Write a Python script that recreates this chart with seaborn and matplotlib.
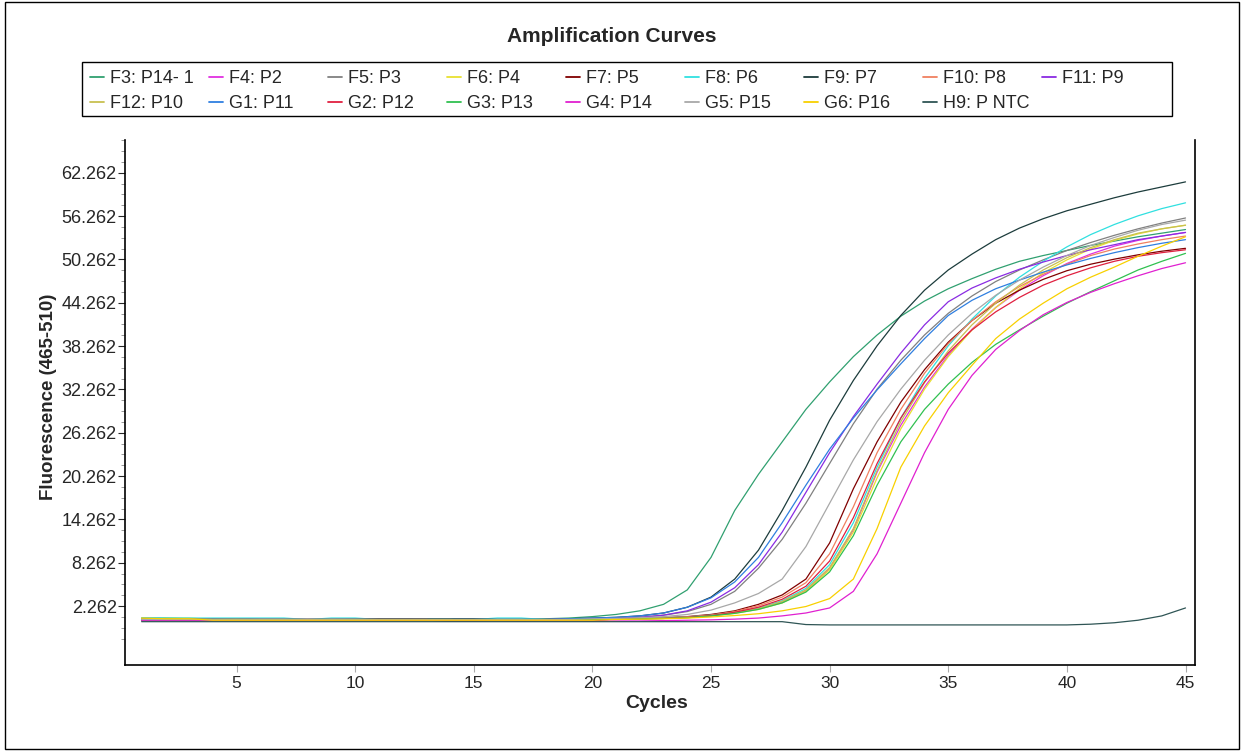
import matplotlib
matplotlib.use("Agg")
import matplotlib.pyplot as plt
import seaborn as sns
import pandas as pd
from matplotlib.lines import Line2D
from matplotlib.patches import Rectangle
from matplotlib.ticker import FixedLocator

# cycle numbers and the fluorescence read-outs of every well
cycles = list(range(1, 46))

f3_p14_1 = [0.6, 0.6, 0.5, 0.5, 0.5, 0.4, 0.4, 0.4, 0.4, 0.4,
            0.4, 0.4, 0.4, 0.3, 0.3, 0.4, 0.4, 0.5, 0.6, 0.8,
            1.1, 1.6, 2.5, 4.5, 9.0, 15.5, 20.5, 25.0, 29.5, 33.3,
            36.8, 39.8, 42.4, 44.5, 46.2, 47.6, 48.9, 50.0, 50.8, 51.5,
            52.2, 52.8, 53.4, 53.9, 54.4]
f4_p2 = [0.5, 0.5, 0.5, 0.4, 0.4, 0.4, 0.4, 0.4, 0.4, 0.4,
         0.4, 0.4, 0.4, 0.2, 0.2, 0.3, 0.2, 0.3, 0.3, 0.4,
         0.45, 0.5, 0.55, 0.7, 0.9, 1.3, 1.9, 2.8, 4.4, 7.5,
         12.8, 20.8, 27.3, 32.6, 37.0, 40.6, 43.6, 46.0, 48.0, 49.7,
         51.0, 52.1, 52.9, 53.5, 54.0]
f5_p3 = [0.4, 0.5, 0.5, 0.5, 0.5, 0.4, 0.4, 0.4, 0.4, 0.5,
         0.5, 0.5, 0.4, 0.4, 0.4, 0.4, 0.4, 0.4, 0.5, 0.5,
         0.6, 0.7, 1.0, 1.5, 2.5, 4.3, 7.5, 11.5, 16.5, 22.0,
         27.5, 32.3, 36.3, 39.8, 42.8, 45.2, 47.2, 48.8, 50.2, 51.5,
         52.6, 53.6, 54.5, 55.3, 56.0]
f6_p4 = [0.3, 0.6, 0.6, 0.4, 0.5, 0.3, 0.3, 0.3, 0.3, 0.3,
         0.3, 0.3, 0.3, 0.3, 0.3, 0.3, 0.3, 0.3, 0.3, 0.3,
         0.45, 0.5, 0.55, 0.65, 0.9, 1.25, 1.8, 2.7, 4.3, 7.3,
         12.5, 20.0, 26.8, 32.3, 36.8, 40.5, 43.6, 46.2, 48.4, 50.2,
         51.7, 52.9, 53.8, 54.5, 55.0]
f7_p5 = [0.3, 0.3, 0.3, 0.3, 0.3, 0.3, 0.3, 0.3, 0.3, 0.3,
         0.3, 0.3, 0.3, 0.2, 0.2, 0.3, 0.3, 0.3, 0.3, 0.2,
         0.5, 0.55, 0.65, 0.8, 1.1, 1.6, 2.5, 3.8, 6.0, 11.0,
         18.5, 25.0, 30.5, 35.0, 38.8, 41.8, 44.2, 46.0, 47.5, 48.7,
         49.6, 50.3, 50.9, 51.4, 51.8]
f8_p6 = [0.6, 0.6, 0.6, 0.6, 0.6, 0.6, 0.6, 0.4, 0.6, 0.6,
         0.4, 0.4, 0.4, 0.4, 0.4, 0.6, 0.6, 0.4, 0.4, 0.5,
         0.5, 0.55, 0.6, 0.75, 1.0, 1.4, 2.0, 3.0, 4.7, 8.0,
         13.8, 21.5, 28.3, 33.8, 38.3, 42.0, 45.2, 47.8, 50.0, 52.0,
         53.7, 55.1, 56.3, 57.3, 58.1]
f9_p7 = [0.4, 0.4, 0.4, 0.4, 0.4, 0.4, 0.4, 0.4, 0.4, 0.4,
         0.5, 0.5, 0.5, 0.5, 0.5, 0.4, 0.4, 0.4, 0.5, 0.6,
         0.7, 0.9, 1.3, 2.1, 3.5, 6.0, 10.0, 15.5, 21.5, 28.0,
         33.5, 38.3, 42.5, 46.0, 48.8, 51.0, 53.0, 54.6, 55.9, 57.0,
         57.9, 58.8, 59.6, 60.3, 61.0]
f10_p8 = [0.4, 0.4, 0.4, 0.4, 0.4, 0.4, 0.4, 0.4, 0.4, 0.4,
          0.4, 0.4, 0.4, 0.3, 0.3, 0.3, 0.3, 0.3, 0.4, 0.4,
          0.5, 0.55, 0.6, 0.75, 1.0, 1.5, 2.3, 3.5, 5.5, 9.5,
          16.0, 23.5, 29.5, 34.5, 38.6, 41.8, 44.4, 46.5, 48.2, 49.6,
          50.8, 51.7, 52.4, 53.0, 53.5]
f11_p9 = [0.4, 0.4, 0.4, 0.4, 0.4, 0.4, 0.4, 0.4, 0.4, 0.4,
          0.4, 0.4, 0.4, 0.4, 0.4, 0.4, 0.4, 0.4, 0.5, 0.5,
          0.6, 0.7, 1.0, 1.6, 2.8, 4.8, 8.0, 12.5, 18.0, 23.5,
          28.5, 33.0, 37.3, 41.2, 44.4, 46.3, 47.7, 48.9, 49.9, 50.8,
          51.6, 52.3, 53.0, 53.5, 54.0]
f12_p10 = [0.5, 0.5, 0.5, 0.4, 0.4, 0.4, 0.4, 0.4, 0.4, 0.4,
           0.4, 0.4, 0.4, 0.4, 0.3, 0.3, 0.3, 0.3, 0.3, 0.4,
           0.5, 0.5, 0.6, 0.7, 0.95, 1.35, 1.9, 2.9, 4.5, 7.6,
           13.0, 21.0, 27.8, 33.2, 37.6, 41.2, 44.2, 46.7, 48.8, 50.5,
           51.9, 53.0, 53.9, 54.5, 55.0]
g1_p11 = [0.4, 0.4, 0.4, 0.4, 0.4, 0.4, 0.4, 0.4, 0.4, 0.4,
          0.4, 0.4, 0.4, 0.4, 0.4, 0.4, 0.4, 0.4, 0.5, 0.6,
          0.7, 0.9, 1.3, 2.1, 3.4, 5.6, 9.0, 13.8, 19.0, 24.0,
          28.3, 32.2, 35.8, 39.3, 42.5, 44.6, 46.2, 47.4, 48.5, 49.5,
          50.4, 51.2, 51.9, 52.5, 53.0]
g2_p12 = [0.4, 0.4, 0.4, 0.4, 0.4, 0.4, 0.4, 0.4, 0.4, 0.4,
          0.4, 0.4, 0.4, 0.2, 0.2, 0.3, 0.2, 0.3, 0.3, 0.4,
          0.45, 0.5, 0.55, 0.7, 0.95, 1.4, 2.1, 3.2, 5.0, 8.5,
          14.5, 22.0, 28.3, 33.3, 37.3, 40.5, 43.0, 45.0, 46.7, 48.0,
          49.1, 50.0, 50.7, 51.2, 51.6]
g3_p13 = [0.4, 0.4, 0.4, 0.4, 0.4, 0.4, 0.4, 0.4, 0.4, 0.4,
          0.4, 0.4, 0.4, 0.4, 0.4, 0.4, 0.4, 0.4, 0.4, 0.4,
          0.45, 0.5, 0.55, 0.65, 0.9, 1.25, 1.8, 2.7, 4.2, 7.0,
          12.0, 19.0, 25.0, 29.5, 33.0, 36.0, 38.5, 40.5, 42.4, 44.2,
          45.8, 47.3, 48.8, 50.0, 51.1]
g4_p14 = [0.3, 0.3, 0.3, 0.3, 0.3, 0.3, 0.3, 0.3, 0.3, 0.3,
          0.3, 0.3, 0.3, 0.2, 0.2, 0.2, 0.2, 0.2, 0.2, 0.2,
          0.2, 0.2, 0.25, 0.3, 0.35, 0.45, 0.6, 0.9, 1.3, 2.0,
          4.3, 9.5, 16.5, 23.5, 29.5, 34.2, 37.8, 40.4, 42.6, 44.3,
          45.7, 46.9, 48.0, 49.0, 49.8]
g5_p15 = [0.4, 0.4, 0.4, 0.4, 0.4, 0.4, 0.4, 0.4, 0.4, 0.4,
          0.4, 0.4, 0.4, 0.4, 0.4, 0.4, 0.4, 0.4, 0.4, 0.5,
          0.55, 0.65, 0.8, 1.1, 1.7, 2.7, 4.0, 6.0, 10.5, 16.5,
          22.5, 27.8, 32.3, 36.3, 39.8, 42.8, 45.3, 47.4, 49.2, 50.8,
          52.2, 53.3, 54.3, 55.1, 55.7]
g6_p16 = [0.6, 0.5, 0.5, 0.3, 0.3, 0.3, 0.3, 0.3, 0.3, 0.3,
          0.3, 0.3, 0.3, 0.3, 0.3, 0.3, 0.3, 0.3, 0.3, 0.3,
          0.4, 0.45, 0.5, 0.6, 0.75, 0.95, 1.2, 1.6, 2.2, 3.3,
          6.0, 13.0, 21.5, 27.2, 31.8, 35.6, 39.3, 42.0, 44.2, 46.2,
          47.8, 49.2, 50.7, 52.1, 53.4]
h9_p_ntc = [0.1, 0.1, 0.1, 0.1, 0.1, 0.1, 0.1, 0.1, 0.1, 0.1,
            0.1, 0.1, 0.1, 0.1, 0.1, 0.1, 0.1, 0.1, 0.1, 0.1,
            0.1, 0.1, 0.1, 0.1, 0.1, 0.1, 0.1, 0.1, -0.3, -0.35,
            -0.35, -0.35, -0.35, -0.35, -0.35, -0.35, -0.35, -0.35, -0.35, -0.35,
            -0.25, -0.05, 0.3, 0.9, 2.0]

samples = ["F3: P14- 1", "F4: P2", "F5: P3", "F6: P4", "F7: P5", "F8: P6",
           "F9: P7", "F10: P8", "F11: P9", "F12: P10", "G1: P11", "G2: P12",
           "G3: P13", "G4: P14", "G5: P15", "G6: P16", "H9: P NTC"]
series = [f3_p14_1, f4_p2, f5_p3, f6_p4, f7_p5, f8_p6, f9_p7, f10_p8, f11_p9,
          f12_p10, g1_p11, g2_p12, g3_p13, g4_p14, g5_p15, g6_p16, h9_p_ntc]
colors = ["#30A070", "#E030E0", "#808080", "#E8E030", "#800000", "#30E0E0",
          "#1C3C3C", "#F08060", "#8A2BE2", "#C8C050", "#2F7FE0", "#E02040",
          "#30C050", "#E020D0", "#A8A8A8", "#F8D000", "#2F5555"]
yticks = [2.262, 8.262, 14.262, 20.262, 26.262, 32.262, 38.262, 44.262,
          50.262, 56.262, 62.262]
xticks = [5, 10, 15, 20, 25, 30, 35, 40, 45]

df = pd.concat([pd.DataFrame({"Cycle": cycles, "Fluorescence": vals, "Sample": name})
                for name, vals in zip(samples, series)], ignore_index=True)

sns.set_style("ticks")
plt.rcParams["font.family"] = ["Liberation Sans", "DejaVu Sans"]
narrow = ["Liberation Sans Narrow", "Liberation Sans", "DejaVu Sans"]

fig = plt.figure(figsize=(12.43, 7.51), dpi=100)
ax = fig.add_axes([125/1243, 1-665/751, 1070/1243, 525/751])

sns.lineplot(data=df, x="Cycle", y="Fluorescence", hue="Sample", hue_order=samples,
             palette=dict(zip(samples, colors)), linewidth=0.9, ax=ax, legend=False)

ax.set_xlim(0.3, 45.4)
ax.set_ylim(-5.9, 66.8)
ax.yaxis.set_major_locator(FixedLocator(yticks))
ax.set_yticklabels([f"{t:.3f}" for t in yticks])
ax.yaxis.set_minor_locator(FixedLocator([t + d for t in [-3.738] + yticks for d in (1.5, 3.0, 4.5)
                                         if -5.9 < t + d < 66.8]))
ax.xaxis.set_major_locator(FixedLocator(xticks))
ax.tick_params(axis="y", which="major", length=5, width=0.8, labelsize=13, pad=1)
ax.tick_params(axis="y", which="minor", length=3, width=0.6, color="#888888")
ax.tick_params(axis="x", which="major", length=5, width=0.8, color="#aaaaaa", labelsize=12.5, pad=3)
for lab in ax.get_xticklabels():
    lab.set_family(narrow)

ax.set_xlabel("Cycles", fontsize=14, fontweight="bold")
ax.xaxis.set_label_coords(0.497, -0.058)
ax.set_ylabel("Fluorescence (465-510)", fontsize=13.5, fontweight="bold")
ax.yaxis.set_label_coords(-0.064, 0.51)

for side in ["left", "bottom", "right"]:
    ax.spines[side].set_color("black")
    ax.spines[side].set_linewidth(1.2)
ax.spines["top"].set_visible(False)

fig.text(612/1243, 1-37/751, "Amplification Curves", ha="center", va="center",
         fontsize=15, fontweight="bold")

# legend: 9 evenly spaced columns, filled row by row, inside one box
for i in range(9):
    idx = [j for j in (i, i + 9) if j < len(samples)]
    fig.legend([Line2D([], [], color=colors[j], lw=1.3) for j in idx], [samples[j] for j in idx],
               loc="upper left", bbox_to_anchor=((90 + 119 * i) / 1243, 1 - 70 / 751),
               frameon=False, fontsize=13, handlelength=0.8, handletextpad=0.3,
               borderaxespad=0, borderpad=0, labelspacing=0.45)
fig.patches.append(Rectangle((82/1243, 1-116/751), 1090/1243, 54/751, transform=fig.transFigure,
                             fill=False, edgecolor="black", linewidth=1.0))

fig.patches.append(Rectangle((0.004, 0.003), 0.993, 0.994, transform=fig.transFigure,
                             fill=False, edgecolor="black", linewidth=1.0))

fig.savefig("out.png", dpi=100)
